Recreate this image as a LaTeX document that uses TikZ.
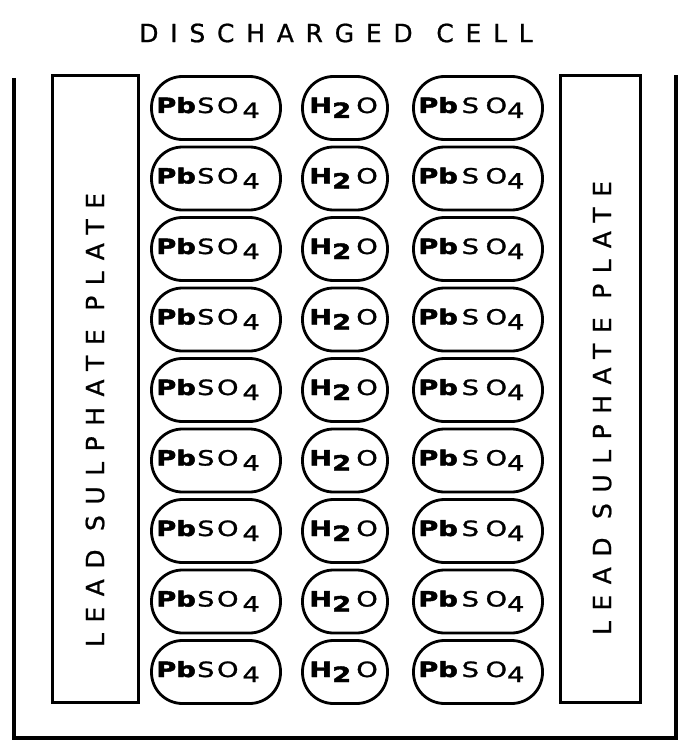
\documentclass[tikz,border=0pt]{standalone}
\usepackage{graphicx}
\usepackage{fontspec}
\setmainfont{DejaVu Sans}
\newfontfamily\lettering[LetterSpace=47,FakeBold=0.8]{DejaVu Sans}
\newfontfamily\platefont[LetterSpace=42,FakeBold=0.8]{DejaVu Sans}
\newfontfamily\chemfont[FakeBold=1.2]{DejaVu Sans}
\newfontfamily\chembold[FakeBold=2]{DejaVu Sans Bold}
\newcommand{\lowidx}[1]{\raisebox{-5pt}{#1}}
\newcommand{\wide}[1]{\scalebox{1.3}[1]{#1}}
\newcommand{\pbA}{\wide{{\chembold Pb}\hspace{1pt}S\hspace{2pt}O\hspace{3pt}\lowidx{4}}}
\newcommand{\pbB}{\wide{{\chembold Pb}\hspace{3pt}S\hspace{5pt}O\hspace{0pt}\lowidx{4}}}
\newcommand{\water}{\wide{{\chembold H}\hspace{0pt}\lowidx{\chembold 2}\hspace{4pt}O}}
\begin{document}
\begin{tikzpicture}[x=1pt,y=-1pt,
  pill/.style={draw,line width=2.8pt,rounded corners=31pt,minimum height=63pt,inner sep=0pt},
  chem/.style={inner sep=0pt,anchor=base west,font=\chemfont\fontsize{21}{21}\selectfont},
  plate/.style={draw,line width=3pt,inner sep=0pt},
  frame/.style={line width=3.4pt}]
\useasboundingbox (0,0) rectangle (682,741);
% title
\node[font=\lettering\fontsize{25}{25}\selectfont] (title) at (336,33) {DISCHARGED\hspace{4pt} CELL};
% container
\coordinate (ctl) at (14,78);
\coordinate (cbl) at (14,738);
\coordinate (cbr) at (676,738);
\coordinate (ctr) at (676,75);
\draw[frame] (ctl) -- (cbl) -- (cbr) -- (ctr);
% plates
\node[plate,minimum width=86pt,minimum height=627pt] (lp) at (95,389) {};
\node[plate,minimum width=80pt,minimum height=627pt] (rp) at (600,389) {};
\node[rotate=90,font=\platefont\fontsize{25}{25}\selectfont] (lpt) at (95,420) {LEAD SULPHATE PLATE};
\node[rotate=90,font=\platefont\fontsize{25}{25}\selectfont] (rpt) at (602,408) {LEAD SULPHATE PLATE};
% molecules
\foreach \i in {0,...,8}{
  \pgfmathsetmacro{\yy}{108+70.5*\i}
  \node[pill,minimum width=129pt] (a\i) at (216,\yy) {};
  \node[pill,minimum width=85pt] (b\i) at (345,\yy) {};
  \node[pill,minimum width=129pt] (c\i) at (478,\yy) {};
  \node[chem] (ta\i) at ([xshift=6pt,yshift=-5pt]a\i.west) {\pbA};
  \node[chem] (tb\i) at ([xshift=8pt,yshift=-5pt]b\i.west) {\water};
  \node[chem] (tc\i) at ([xshift=6pt,yshift=-5pt]c\i.west) {\pbB};
}
\end{tikzpicture}
\end{document}
